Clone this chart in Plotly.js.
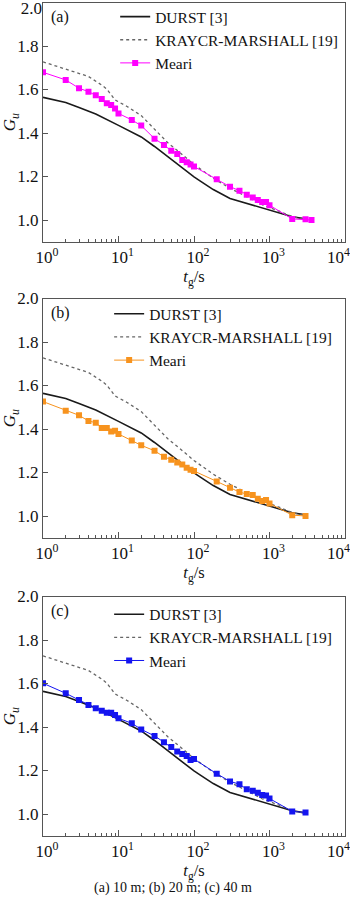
<!DOCTYPE html>
<html>
<head>
<meta charset="utf-8">
<script src="https://cdn.plot.ly/plotly-3.0.1.min.js"></script>
<style>
html,body{margin:0;padding:0;background:#fff;}
#chart{width:350px;height:898px;}
</style>
</head>
<body>
<div id="chart"></div>
<script>
// ---- data ----
const seriesNames = ['DURST [3]', 'KRAYCR-MARSHALL [19]', 'Meari'];
const panelLabels = ['(a)', '(b)', '(c)'];
const caption = '(a) 10 m; (b) 20 m; (c) 40 m';

// Durst curve (same in every panel)
const durstT = [1, 2, 3, 5, 10, 20, 30, 40, 60, 80, 100, 120, 180, 300, 600, 1000, 2000, 3000];
const durstG = [1.564, 1.540, 1.517, 1.487, 1.435, 1.382, 1.338, 1.305, 1.258, 1.222, 1.198, 1.180, 1.140, 1.099, 1.069, 1.046, 1.015, 1.005];

// Krayer-Marshall curve (same in every panel)
const kmT = [1, 2, 4, 6, 7, 9, 13, 20, 30, 45, 65, 100, 180, 300, 500, 800, 1400, 2000, 3000];
const kmG = [1.727, 1.693, 1.660, 1.620, 1.602, 1.552, 1.522, 1.480, 1.418, 1.355, 1.310, 1.255, 1.192, 1.146, 1.107, 1.070, 1.038, 1.015, 1.003];

// Meari measurements
const meariT_a = [1, 2, 3, 4, 5, 6, 7, 8, 9, 10, 15, 20, 30, 40, 50, 60, 70, 80, 90, 100, 200, 300, 400, 500, 600, 700, 800, 900, 1000, 2000, 3000, 3600];
const meariG_a = [1.679, 1.644, 1.606, 1.590, 1.573, 1.556, 1.537, 1.529, 1.513, 1.490, 1.460, 1.434, 1.374, 1.345, 1.318, 1.303, 1.276, 1.266, 1.255, 1.246, 1.187, 1.153, 1.135, 1.116, 1.103, 1.092, 1.083, 1.083, 1.068, 1.005, 1.003, 1.000];

const meariT_bc = [1, 2, 3, 4, 5, 6, 7, 8, 9, 10, 15, 20, 30, 40, 50, 60, 70, 80, 90, 100, 200, 300, 400, 500, 600, 700, 800, 900, 1000, 2000, 3000];
const meariG_b = [1.526, 1.484, 1.463, 1.437, 1.429, 1.405, 1.405, 1.388, 1.392, 1.377, 1.347, 1.325, 1.300, 1.272, 1.259, 1.246, 1.237, 1.222, 1.213, 1.207, 1.159, 1.130, 1.110, 1.101, 1.097, 1.079, 1.069, 1.074, 1.058, 1.004, 1.000];
const meariG_c = [1.601, 1.555, 1.524, 1.501, 1.486, 1.475, 1.466, 1.466, 1.455, 1.440, 1.417, 1.389, 1.359, 1.330, 1.308, 1.287, 1.276, 1.267, 1.248, 1.253, 1.185, 1.150, 1.137, 1.114, 1.107, 1.098, 1.087, 1.085, 1.071, 1.012, 1.007];

const meariColors = ['#FF00FF', '#F7931E', '#1414F0'];

// axis ticks
const xTickVals = [1, 10, 100, 1000, 10000];
const xTickText = ['10<sup>0</sup>', '10<sup>1</sup>', '10<sup>2</sup>', '10<sup>3</sup>', '10<sup>4</sup>&nbsp;&nbsp;&nbsp;&nbsp;&nbsp;'];
const xMinorVals = [2, 3, 4, 5, 6, 7, 8, 9, 20, 30, 40, 50, 60, 70, 80, 90, 200, 300, 400, 500, 600, 700, 800, 900, 2000, 3000, 4000, 5000, 6000, 7000, 8000, 9000];
const yTickVals = [1.0, 1.2, 1.4, 1.6, 1.8, 2.0];
const yTickText = ['1.0', '1.2', '1.4', '1.6', '1.8', '2.0'];
const yTickValsTopPanel = [1.0, 1.2, 1.4, 1.6, 1.8];
const yTickTextTopPanel = ['1.0', '1.2', '1.4', '1.6', '1.8'];
const yTopVal = [2.0];
const yTopText = ['2.0'];

// ---- build ----
const FONT = 'Liberation Serif';
const axisColor = '#555';
const panels = [
  {xa: 'x', ya: 'y', lg: 'legend', T: meariT_a, G: meariG_a},
  {xa: 'x2', ya: 'y2', lg: 'legend2', T: meariT_bc, G: meariG_b},
  {xa: 'x3', ya: 'y3', lg: 'legend3', T: meariT_bc, G: meariG_c}
];

const traces = [];
panels.forEach((p, i) => {
  traces.push({
    x: durstT, y: durstG, xaxis: p.xa, yaxis: p.ya, legend: p.lg,
    type: 'scatter', mode: 'lines', name: seriesNames[0],
    line: {color: '#1a1a1a', width: 1.6}
  });
  traces.push({
    x: kmT, y: kmG, xaxis: p.xa, yaxis: p.ya, legend: p.lg,
    type: 'scatter', mode: 'lines', name: seriesNames[1],
    line: {color: '#666', width: 1.3, dash: '3px,3px'}
  });
  traces.push({
    x: p.T, y: p.G, xaxis: p.xa, yaxis: p.ya, legend: p.lg,
    type: 'scatter', mode: 'lines+markers', name: seriesNames[2],
    line: {color: meariColors[i], width: 1},
    marker: {symbol: 'square', size: 6, color: meariColors[i]}
  });
});
// empty trace so the overlay axis carrying panel (a)'s top tick label is drawn
traces.push({x: [], y: [], xaxis: 'x', yaxis: 'y4', type: 'scatter', mode: 'lines', showlegend: false, hoverinfo: 'skip'});

const H = 898;
const domains = [
  [1 - 241.75 / H, 1 - 2.5 / H],
  [1 - 537.75 / H, 1 - 298.5 / H],
  [1 - 835.75 / H, 1 - 596.5 / H]
];
const tickFont = {family: FONT, size: 17, color: '#111'};

function xAxis(anchor) {
  return {
    type: 'log', range: [0, 4], anchor: anchor,
    tickmode: 'array', tickvals: xTickVals, ticktext: xTickText,
    ticks: 'inside', ticklen: 6, tickwidth: 1, tickcolor: axisColor,
    minor: {tickmode: 'array', tickvals: xMinorVals, ticks: 'inside', ticklen: 3, tickwidth: 1, tickcolor: axisColor, showgrid: false},
    showline: true, linecolor: axisColor, linewidth: 1, mirror: true,
    showgrid: false, zeroline: false, ticklabeloverflow: 'allow', ticklabelshift: 4,
    tickfont: tickFont,
    title: {text: '<i>t</i><sub>g</sub>/s', font: {family: FONT, size: 16.5, color: '#111'}, standoff: 0}
  };
}
function yAxis(anchor, dom, vals, texts) {
  return {
    range: [0.9, 2.0], anchor: anchor, domain: dom,
    tickmode: 'array', tickvals: vals, ticktext: texts,
    ticks: 'inside', ticklen: 5, tickwidth: 1, tickcolor: axisColor,
    showline: true, linecolor: axisColor, linewidth: 1, mirror: true,
    showgrid: false, zeroline: false, ticklabeloverflow: 'allow',
    tickfont: tickFont,
    title: {text: '<i>G</i><sub><i>u</i></sub>', font: {family: FONT, size: 17, color: '#111'}, standoff: 2}
  };
}

function legendAt(x, y) {
  return {
    x: x, y: y, xanchor: 'left', yanchor: 'top', xref: 'paper', yref: 'paper',
    bgcolor: 'rgba(0,0,0,0)', borderwidth: 0,
    font: {family: FONT, size: 15.5, color: '#111'},
    tracegroupgap: 0, itemwidth: 30
  };
}

const annotations = [];
panels.forEach((p, i) => {
  annotations.push({
    text: panelLabels[i], xref: p.xa + ' domain', yref: p.ya + ' domain',
    x: 0.02, y: 0.985, xanchor: 'left', yanchor: 'top', showarrow: false,
    font: {family: FONT, size: 16, color: '#111'}
  });
});
annotations.push({
  text: caption, xref: 'paper', yref: 'paper', x: 0.43, y: 1 - 888 / H,
  xanchor: 'center', yanchor: 'middle', showarrow: false,
  font: {family: FONT, size: 14, color: '#111'}
});

const layout = {
  width: 350, height: H,
  margin: {l: 43, r: 5, t: 0, b: 0},
  paper_bgcolor: '#fff', plot_bgcolor: '#fff',
  showlegend: true,
  xaxis: xAxis('y'), xaxis2: xAxis('y2'), xaxis3: xAxis('y3'),
  yaxis: yAxis('x', domains[0], yTickValsTopPanel, yTickTextTopPanel),
  yaxis2: yAxis('x2', domains[1], yTickVals, yTickText),
  yaxis3: yAxis('x3', domains[2], yTickVals, yTickText),
  // top label of panel (a) nudged down so it stays inside the page, as in the reference
  yaxis4: {
    overlaying: 'y', anchor: 'x', side: 'left', range: [0.9, 2.0],
    tickmode: 'array', tickvals: yTopVal, ticktext: yTopText,
    ticks: '', showline: false, showgrid: false, zeroline: false,
    ticklabelshift: 6, ticklabeloverflow: 'allow', tickfont: tickFont
  },
  legend: legendAt(0.239, 1.0),
  legend2: legendAt(0.219, 0.669),
  legend3: legendAt(0.219, 0.3345),
  annotations: annotations,
  font: {family: FONT, color: '#111'}
};

Plotly.newPlot('chart', traces, layout, {displayModeBar: false, staticPlot: true});
</script>
</body>
</html>
